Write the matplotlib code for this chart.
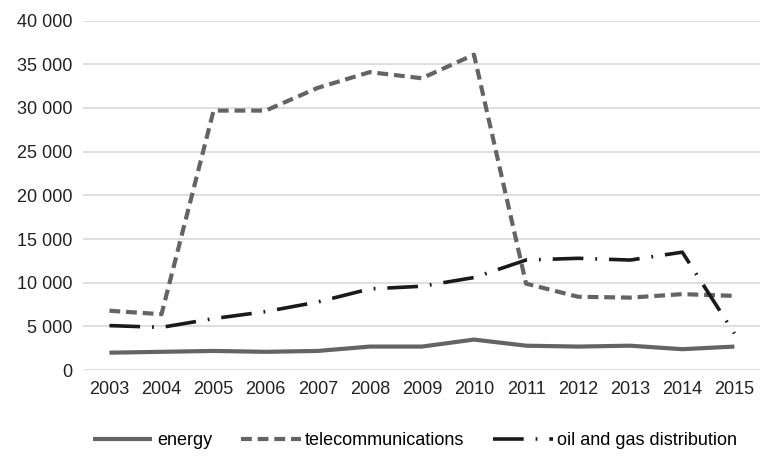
import matplotlib
matplotlib.use("Agg")
import matplotlib.pyplot as plt
from matplotlib.ticker import FuncFormatter

years = [2003, 2004, 2005, 2006, 2007, 2008, 2009, 2010, 2011, 2012, 2013, 2014, 2015]
energy = [2000, 2100, 2200, 2100, 2200, 2700, 2700, 3500, 2800, 2700, 2800, 2400, 2700]
telecom = [6800, 6400, 29700, 29700, 32300, 34100, 33400, 36100, 9900, 8400, 8300, 8700, 8500]
oil_gas = [5100, 4900, 5900, 6700, 7800, 9300, 9600, 10600, 12600, 12800, 12600, 13500, 4200]

plt.rcParams["font.family"] = ["Liberation Sans", "DejaVu Sans"]

fig = plt.figure(figsize=(7.65, 4.57), dpi=100)
ax = fig.add_axes([0.109, 0.19, 0.885, 0.765])

x = list(range(len(years)))
ax.plot(x, energy, color="#646464", lw=3.0, label="energy", solid_capstyle="butt")
ax.plot(x, telecom, color="#646464", lw=3.0, dashes=(2.6, 1.4), label="telecommunications")
ax.plot(x, oil_gas, color="#1a1a1a", lw=2.6, dashes=(8.5, 3.3, 0.5, 3.3), label="oil and gas distribution")

ax.set_xlim(-0.5, len(years) - 0.5)
ax.set_ylim(0, 40000)
ax.set_yticks(range(0, 40001, 5000))
ax.yaxis.set_major_formatter(FuncFormatter(lambda v, p: f"{int(v):,}".replace(",", " ")))
ax.set_xticks(x)
ax.set_xticklabels([str(y) for y in years])
ax.tick_params(axis="both", length=0, labelsize=13, colors="#222222", pad=8)
ax.yaxis.grid(True, color="#d9d9d9", lw=1.2)
ax.set_axisbelow(True)
for s in ax.spines.values():
    s.set_visible(False)

leg = ax.legend(loc="upper center", bbox_to_anchor=(0.49, -0.13), ncol=3, frameon=False,
                fontsize=13, handlelength=3.3, columnspacing=1.6, handletextpad=0.25)

fig.savefig("out.png", dpi=100, facecolor="white")
